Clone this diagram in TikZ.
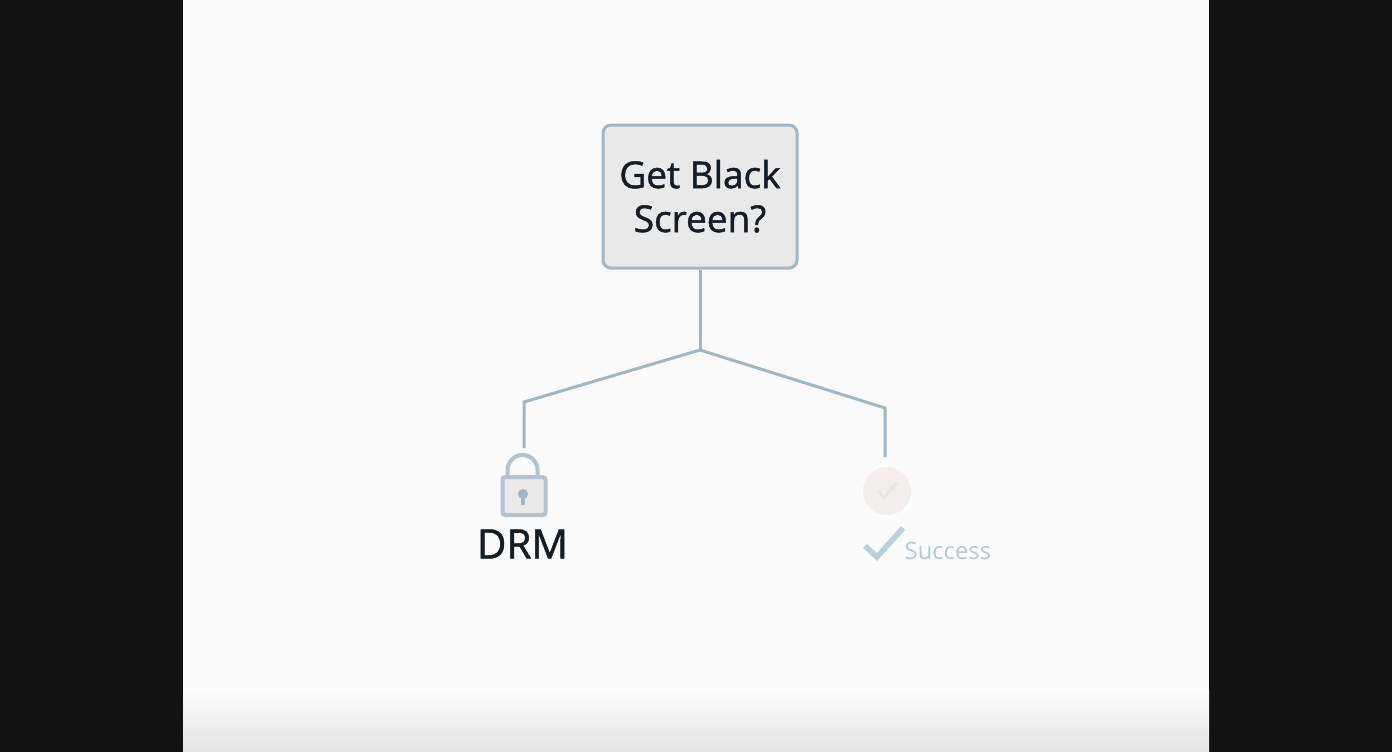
\documentclass[tikz,border=0pt]{standalone}
\usepackage{fontspec}
\setmainfont{Open Sans}
\newfontfamily\heavyfont[FakeBold=1.3]{Open Sans}
\definecolor{pagecol}{HTML}{FBFBFB}
\definecolor{linecol}{HTML}{A3B6C6}
\definecolor{lockcol}{HTML}{B3C3CF}
\definecolor{inkcol}{HTML}{141C26}
\definecolor{tealcol}{HTML}{B6D3DD}
\begin{document}
\begin{tikzpicture}
		[x=1pt, y=-1pt,
		every node/.style={inner sep=0pt, text=inkcol},
		wire/.style={draw=linecol, line width=3pt, line join=miter},
		question/.style={draw=linecol, line width=3pt, fill=black!7!pagecol, rounded corners=8pt, minimum width=194pt, minimum height=143pt, align=center, font=\heavyfont\fontsize{37}{44}\selectfont}]
		\fill[black!93] (0,0) rectangle (1392,752);
		\fill[pagecol] (183,0) rectangle (1209,752);
		\shade[top color=pagecol, bottom color=black!9!pagecol] (183,690) rectangle (1209,752);
		
		\node[question] (ask) at (700,196.5) {\raisebox{1pt}{Get Black}\\\raisebox{1pt}{Screen?}};
		\coordinate (split) at (700,350);
		\coordinate (lbend) at (524,402);
		\coordinate (lend) at (524,448);
		\coordinate (rbend) at (885,408);
		\coordinate (rend) at (885,457);
		
		\draw[wire] (ask.south) -- (split);
		\draw[wire] (lend) -- (lbend) -- (split) -- (rbend) -- (rend);
		
		% lock
		\node[draw=lockcol, line width=4pt, fill=black!7!pagecol, rounded corners=2.5pt, minimum width=43pt, minimum height=38pt] (lock) at (524,496) {};
		\draw[lockcol, line width=4pt] (lock.north west) ++(7,0) -- ++(0,-5) arc[start angle=180, end angle=0, x radius=15, y radius=-15] -- ++(0,5);
		\fill[linecol] (523,494) circle (5);
		\fill[linecol] (521,496) rectangle (525,505);
		\node[font=\heavyfont\fontsize{40.5}{48}\selectfont] (drm) at (522.5,544) {DRM};
		
		% success
		\node[circle, fill=red!50!black!5!pagecol, minimum size=48pt] (dot) at (887,491) {};
		\draw[black!8!pagecol, line width=3pt] (878,491) -- (884,498) -- (897,482);
		\draw[tealcol, line width=5.5pt] (865,546) -- (877,557) -- (903,528);
		\node[anchor=west, text=tealcol!90!gray, font=\fontsize{23.8}{30}\selectfont] (success) at (904.5,551) {Success};
		\end{tikzpicture}
\end{document}
